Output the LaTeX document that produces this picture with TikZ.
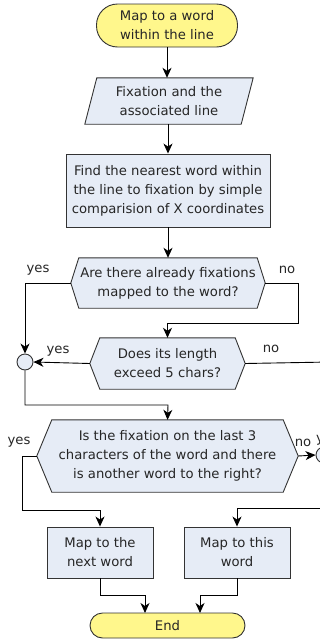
\documentclass[tikz,border=0pt]{standalone}
\usepackage{fontspec}
\setmainfont{DejaVu Sans}
\usetikzlibrary{arrows.meta,backgrounds}
\definecolor{termfill}{HTML}{FFF78C}
\definecolor{procfill}{HTML}{E6ECF6}
\definecolor{edgecol}{HTML}{333333}
\begin{document}
\begin{tikzpicture}[x=1pt,y=-1pt,
  txt/.style={font=\fontsize{13.2}{19}\selectfont, align=center, inner sep=0pt, text=black!85},
  lbl/.style={font=\fontsize{13.2}{19}\selectfont, inner sep=0pt, text=black!85},
  shapeline/.style={draw=edgecol, line width=0.9pt},
  terminal/.style={txt, shapeline, fill=termfill},
  process/.style={txt, shapeline, fill=procfill},
  body/.style={txt},
  junction/.style={shapeline, fill=procfill, circle, minimum size=16pt, inner sep=0pt},
  conn/.style={draw=black, line width=0.9pt, -{Stealth[length=10pt,width=9pt,inset=3pt]}},
  plain/.style={draw=black, line width=0.9pt}
]
\useasboundingbox (0,0) rectangle (320,640);
\clip (0,0) rectangle (320,640);

% nodes
\node[terminal, rounded corners=21pt, minimum width=141pt, minimum height=43pt] (start) at (167,25.5) {Map to a word\\within the line};
\node[body, minimum width=156pt, minimum height=46pt] (par) at (169,101) {Fixation and the\\associated line};
\node[process, minimum width=204pt, minimum height=73pt] (proc) at (168,190.5) {Find the nearest word within\\the line to fixation by simple\\comparision of X coordinates};
\node[body, minimum width=178pt, minimum height=50pt] (d1) at (168,283) {Are there already fixations\\mapped to the word?};
\node[body, minimum width=135pt, minimum height=51pt] (d2) at (167.5,363.5) {Does its length\\exceed 5 chars?};
\node[body, minimum width=231pt, minimum height=72pt] (d3) at (167.5,456) {Is the fixation on the last 3\\characters of the word and there\\is another word to the right?};
\node[process, minimum width=106pt, minimum height=51pt] (b1) at (100,552.5) {Map to the\\next word};
\node[process, minimum width=106pt, minimum height=51pt] (b2) at (237,552.5) {Map to this\\word};
\node[terminal, rounded corners=12.5pt, minimum width=155pt, minimum height=25pt] (end) at (167.5,625.5) {End};
\node[junction] (j1) at (25,362) {};
\node[junction] (j2) at (324,455) {};

% shapes behind text
\begin{scope}[on background layer]
  \filldraw[shapeline, fill=procfill] ([xshift=6pt]par.north west) -- ([xshift=6pt]par.north east) -- ([xshift=-6pt]par.south east) -- ([xshift=-6pt]par.south west) -- cycle;
  \filldraw[shapeline, fill=procfill] (d1.north west) -- (d1.north east) -- ([xshift=8pt]d1.east) -- (d1.south east) -- (d1.south west) -- ([xshift=-8pt]d1.west) -- cycle;
  \filldraw[shapeline, fill=procfill] (d2.north west) -- (d2.north east) -- ([xshift=10pt]d2.east) -- (d2.south east) -- (d2.south west) -- ([xshift=-10pt]d2.west) -- cycle;
  \filldraw[shapeline, fill=procfill] (d3.north west) -- (d3.north east) -- ([xshift=15pt]d3.east) -- (d3.south east) -- (d3.south west) -- ([xshift=-15pt]d3.west) -- cycle;
\end{scope}

\coordinate (d1l) at ([xshift=-8pt]d1.west);
\coordinate (d1r) at ([xshift=8pt]d1.east);
\coordinate (d2l) at ([xshift=-10pt]d2.west);
\coordinate (d2r) at ([xshift=10pt]d2.east);
\coordinate (d3l) at ([xshift=-15pt]d3.west);
\coordinate (d3r) at ([xshift=15pt]d3.east);
\coordinate (d2out) at (330,362);

% connectors
\draw[conn] (start.south) -- (start.south |- par.north);
\draw[conn] (par.south -| proc.north) -- (proc.north);
\draw[conn] (proc.south) -- (proc.south |- d1.north);
\draw[conn] (d1l) -| (j1.north);
\draw[conn] (d1r) -- (298,283) -- (298,323) -| (d2.north);
\draw[conn] (d2l) -- (j1.east);
\draw[plain] (d2r) -- (d2out);
\draw[conn] (j1.south) |- (168,405) -- (d3.north);
\draw[conn] (d3l) -- (22,456) |- (100,510) -- (b1.north);
\draw[conn] (d3r) -- (j2.west);
\draw[conn] (j2.south) |- (237,508) -- (b2.north);
\draw[conn] (b1.south) |- (145,595) -- (145,613);
\draw[conn] (b2.south) |- (200,595) -- (200,613);

% labels
\node[lbl] (y1) at (38,270) {yes};
\node[lbl] (n1) at (287,270) {no};
\node[lbl] (y2) at (58,351) {yes};
\node[lbl] (n2) at (271,349) {no};
\node[lbl] (y3) at (19,442) {yes};
\node[lbl] (n3) at (303,443) {no};
\node[lbl, anchor=west] (y4) at (316,440) {yes};
\end{tikzpicture}
\end{document}
